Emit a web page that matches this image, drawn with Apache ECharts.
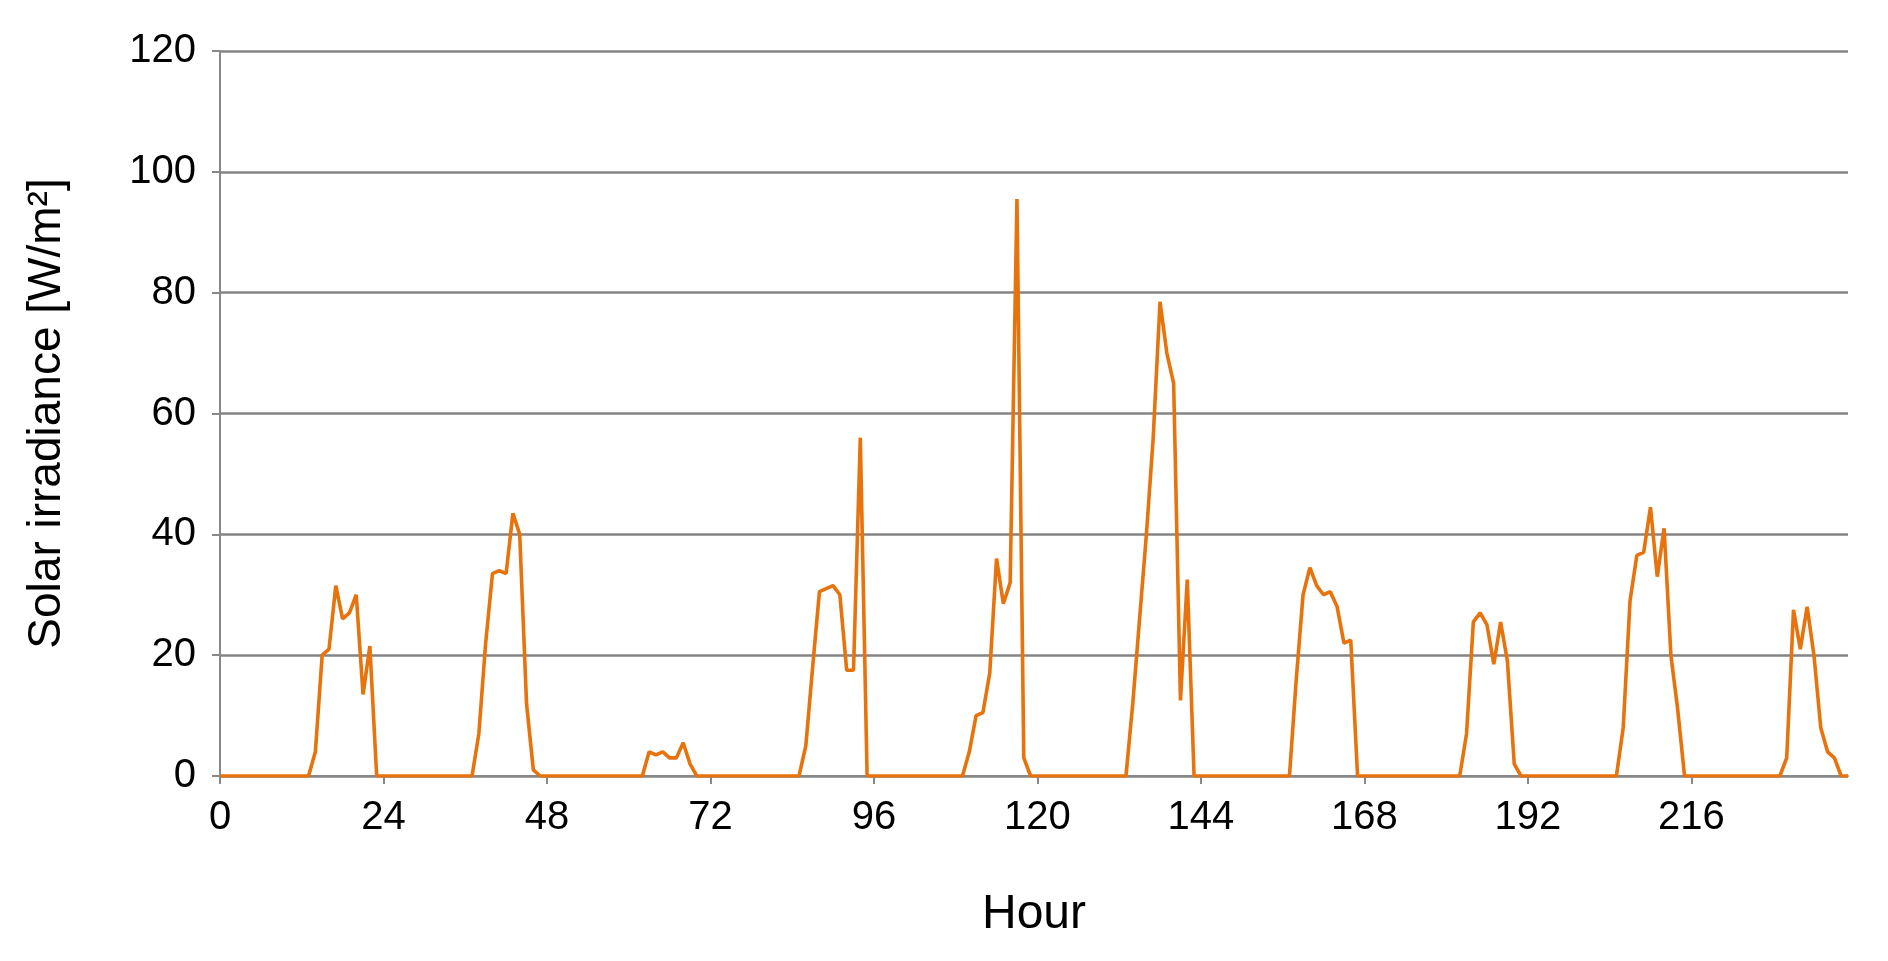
<!DOCTYPE html>
<html><head><meta charset="utf-8">
<script src="https://cdn.jsdelivr.net/npm/echarts@6/dist/echarts.min.js"></script>
<style>html,body{margin:0;background:#fff}#c{width:1888px;height:961px}</style>
</head><body><div id="c"></div>
<script>
// Daylight segments: [start hour, values...]; all other hours are 0
const day1 = [13, 0,4,20,21,31.5,26,27,30,13.5,21.5,0];
const day2 = [37, 0,7,22,33.5,34,33.5,43.5,40,12,1,0];
const day3 = [62, 0,4,3.5,4,3,3,5.5,2,0];
const day4 = [85, 0,5,18,30.5,31,31.5,30,17.5,17.5,56,0];
const day5 = [109, 0,4,10,10.5,17,36,28.5,32,95.5,3,0];
const day6 = [133, 0,12,26,40,56,78.5,70,65,12.5,32.5,0];
const day7 = [157, 0,16,30,34.5,31.5,30,30.5,28,22,22.5,0];
const day8 = [182, 0,7,25.5,27,25,18.5,25.5,19,2,0];
const day9 = [205, 0,8,29,36.5,37,44.5,33,41,20,11,0];
const day10 = [229, 0,3,27.5,21,28,20,8,4,3,0,0];
const days = [day1,day2,day3,day4,day5,day6,day7,day8,day9,day10];
const hours = 240;
const xTicks = [0,24,48,72,96,120,144,168,192,216];

const vals = new Array(hours).fill(0);
days.forEach(d => { for (let i = 1; i < d.length; i++) if (d[0]+i-1 < hours) vals[d[0]+i-1] = d[i]; });
const data = vals.map((v,h)=>[h,v]);

const chart = echarts.init(document.getElementById('c'));
chart.setOption({
  animation:false,
  grid:{left:220,right:40,top:51,bottom:185},
  xAxis:{type:'value',min:0,max:239,interval:24,name:'Hour',nameLocation:'middle',nameGap:115,
    nameTextStyle:{fontFamily:'Liberation Sans',fontSize:48,color:'#000'},
    axisLine:{lineStyle:{color:'#888',width:2}},axisTick:{show:true,length:8,lineStyle:{color:'#888',width:2}},
    axisLabel:{fontFamily:'Liberation Sans',fontSize:40,color:'#000',margin:22,showMaxLabel:false,
      formatter:v=>xTicks.includes(v)?String(v):''},
    splitLine:{show:false}},
  yAxis:{type:'value',min:0,max:120,interval:20,name:'Solar irradiance [W/m²]',nameLocation:'middle',nameGap:150,
    nameTextStyle:{fontFamily:'Liberation Sans',fontSize:46,color:'#000'},
    axisLine:{show:true,lineStyle:{color:'#888',width:2}},axisTick:{show:true,length:8,lineStyle:{color:'#888',width:2}},
    axisLabel:{fontFamily:'Liberation Sans',fontSize:40,color:'#000',margin:24},
    splitLine:{lineStyle:{color:'#858585',width:2.5}}},
  series:[{type:'line',data:data,showSymbol:false,lineStyle:{color:'#E8720C',width:3.6}}]
});
</script></body></html>
